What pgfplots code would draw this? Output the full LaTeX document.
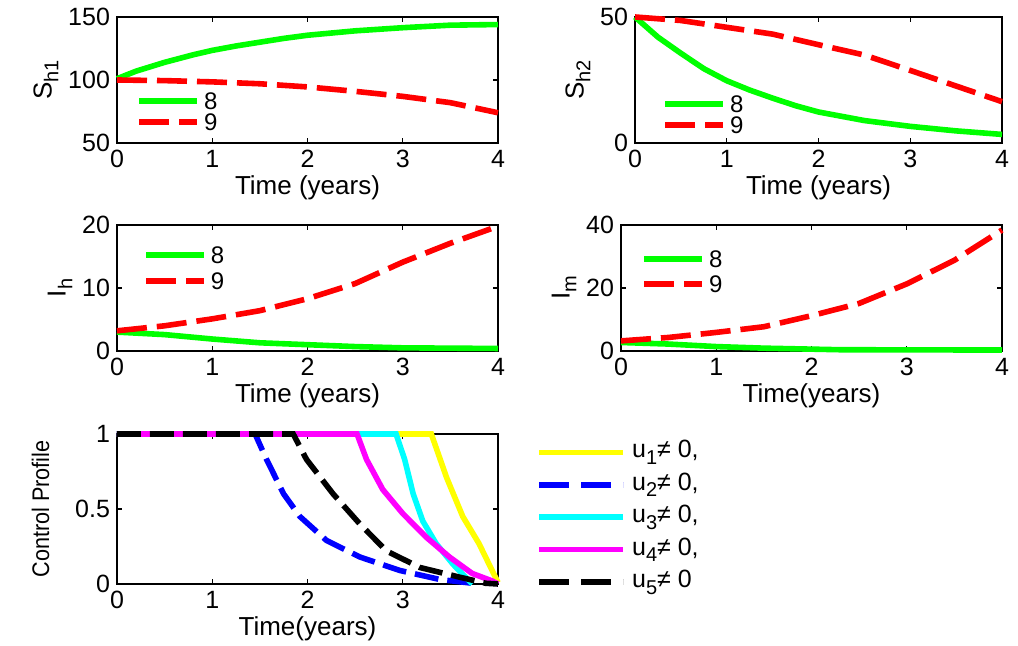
\documentclass[border=0pt]{standalone}
\usepackage{fontspec}
\setmainfont{Liberation Sans}
\usepackage{pgfplots}
\pgfplotsset{compat=1.18}
\definecolor{mgreen}{rgb}{0,1,0}
\definecolor{mred}{rgb}{1,0,0}
\definecolor{myellow}{rgb}{1,1,0}
\definecolor{mblue}{rgb}{0,0,1}
\definecolor{mcyan}{rgb}{0,1,1}
\definecolor{mmag}{rgb}{1,0,1}
\newcommand{\fs}{\fontsize{12.5}{14}\selectfont}
\newcommand{\fg}{\fontsize{12}{14}\selectfont}
\newcommand{\fl}{\fontsize{13}{15}\selectfont}
\newcommand{\sbs}[1]{\raisebox{-0.5ex}{\fontsize{10}{12}\selectfont #1}}
\pgfplotsset{
  mystyle/.style={
    scale only axis, clip=false,
    xmin=0, xmax=4, xtick={0,1,2,3,4},
    tick align=inside, major tick length=2.5pt,
    axis line style={line width=0.6pt},
    every tick/.style={black, line width=0.6pt},
    tick label style={font=\fs},
    label style={font=\fl},
    /pgf/number format/assume math mode=true,
    legend style={draw=none, fill=none, font=\fg, inner sep=0pt, anchor=north west, row sep=1pt,
      nodes={inner xsep=2pt, inner ysep=0.5pt, text height=8.5pt, text depth=0pt}},
    legend cell align=left,
    legend image code/.code={\draw[##1] (0pt,0pt) -- (29pt,0pt);},
    xlabel={Time (years)},
    xlabel style={yshift=3pt},
    ylabel style={yshift=-2pt},
  },
  gl/.style={color=mgreen, line width=2.8pt},
  rd/.style={color=mred, line width=2.8pt, dash pattern=on 15pt off 5pt},
  yl/.style={color=myellow, line width=2.8pt,
    legend image code/.code={\draw[color=myellow, line width=2.8pt] (0pt,0pt) -- (42pt,0pt);}},
  bl/.style={color=mblue, line width=2.8pt, dash pattern=on 12pt off 4.5pt,
    legend image code/.code={\draw[color=mblue, line width=2.8pt, dash pattern=on 15pt off 6pt] (0pt,0pt) -- (42pt,0pt);}},
  cy/.style={color=mcyan, line width=2.8pt,
    legend image code/.code={\draw[color=mcyan, line width=2.8pt] (0pt,0pt) -- (42pt,0pt);}},
  mg/.style={color=mmag, line width=2.8pt,
    legend image code/.code={\draw[color=mmag, line width=2.8pt] (0pt,0pt) -- (42pt,0pt);}},
  bk/.style={color=black, line width=2.8pt, dash pattern=on 12pt off 4.5pt,
    legend image code/.code={\draw[color=black, line width=2.8pt, dash pattern=on 15pt off 6pt] (0pt,0pt) -- (42pt,0pt);}},
}
\begin{document}
\begin{tikzpicture}
\useasboundingbox (0,0) rectangle (509pt,323pt);
% S_h1
\begin{axis}[mystyle, at={(58.5pt,251.5pt)}, anchor=south west, width=190.5pt, height=63pt,
  ymin=50, ymax=150, ytick={50,100,150}, ylabel={S\sbs{h1}},
  legend style={at={(rel axis cs:0.05,0.41)}}]
\addplot[gl] coordinates {(0,101)(0.2,107)(0.5,114)(0.8,120)(1,123.5)(1.25,127)(1.5,130)(1.75,133)(2,135.5)(2.5,139)(3,141.5)(3.5,143.5)(4,144)};
\addplot[rd] coordinates {(0,100)(0.5,99.5)(1,98.5)(1.5,97)(2,94.5)(2.5,91)(3,87)(3.5,82)(4,74)};
\legend{8,9}
\end{axis}
% S_h2
\begin{axis}[mystyle, at={(317.5pt,251.5pt)}, anchor=south west, width=183.5pt, height=63pt,
  ymin=0, ymax=50, ytick={0,50}, ylabel={S\sbs{h2}},
  legend style={at={(rel axis cs:0.074,0.39)}, row sep=1.2pt}]
\addplot[gl] coordinates {(0,50)(0.25,42)(0.5,35.6)(0.75,29.5)(1,24.7)(1.25,21)(1.5,17.8)(1.75,14.8)(2,12.3)(2.5,8.9)(3,6.6)(3.5,4.8)(4,3.4)};
\addplot[rd] coordinates {(0,50)(0.5,48.6)(1,45.9)(1.5,43.2)(2,39)(2.5,34.9)(3,28.8)(3.5,22.6)(4,16.4)};
\legend{8,9}
\end{axis}
% I_h
\begin{axis}[mystyle, at={(58.5pt,147.5pt)}, anchor=south west, width=190.5pt, height=63pt,
  ymin=0, ymax=20, ytick={0,10,20}, ylabel={I\sbs{h}},
  legend style={at={(rel axis cs:0.068,0.84)}, row sep=3.5pt}]
\addplot[gl] coordinates {(0,3)(0.5,2.6)(1,1.9)(1.5,1.3)(2,1.0)(2.5,0.7)(3,0.5)(4,0.4)};
\addplot[rd] coordinates {(0,3.2)(0.5,4.0)(1,5.1)(1.5,6.4)(2,8.3)(2.5,10.7)(3,14.1)(3.5,17.1)(4,19.8)};
\legend{8,9}
\end{axis}
% I_m
\begin{axis}[mystyle, at={(310.5pt,147.5pt)}, anchor=south west, width=190.5pt, height=63pt,
  ymin=0, ymax=40, ytick={0,20,40}, ylabel={I\sbs{m}}, xlabel={Time(years)},
  legend style={at={(rel axis cs:0.053,0.81)}, row sep=3pt}]
\addplot[gl] coordinates {(0,2.7)(0.5,2.2)(1,1.4)(1.5,0.9)(2.3,0.4)(4,0.3)};
\addplot[rd] coordinates {(0,3.2)(0.5,4.3)(1,5.9)(1.5,7.7)(2,11.2)(2.5,15.1)(3,21.3)(3.5,28.8)(4,38.4)};
\legend{8,9}
\end{axis}
% Control
\begin{axis}[mystyle, at={(58.5pt,31pt)}, anchor=south west, width=190.5pt, height=75pt,
  ymin=0, ymax=1, ytick={0,0.5,1}, ylabel={Control Profile}, xlabel={Time(years)},
  ylabel style={font=\fontsize{12}{14}\selectfont, xscale=0.9}, ylabel shift=8pt,
  legend style={at={(rel axis cs:1.10,0.97)}, row sep=2.7pt, font=\fs,
    nodes={inner xsep=3pt, inner ysep=0.5pt, text height=9pt, text depth=3.5pt}}]
\addplot[yl] coordinates {(0,1)(3.3,1)(3.46,0.71)(3.63,0.45)(3.8,0.27)(4,0.01)};
\addplot[bl] coordinates {(0,1)(1.45,1)(1.57,0.83)(1.75,0.6)(1.92,0.45)(2.2,0.29)(2.55,0.18)(2.97,0.09)(3.39,0.03)(3.8,0)};
\addplot[cy] coordinates {(0,1)(2.93,1)(3.02,0.83)(3.11,0.6)(3.21,0.42)(3.35,0.27)(3.53,0.13)(3.73,0)};
\addplot[mg] coordinates {(0,1)(2.52,1)(2.62,0.83)(2.79,0.63)(3.0,0.47)(3.25,0.31)(3.49,0.18)(3.73,0.07)(3.94,0.02)(4,0)};
\addplot[bk] coordinates {(0,1)(1.85,1)(1.99,0.83)(2.27,0.6)(2.55,0.4)(2.83,0.22)(3.18,0.11)(3.6,0.045)(3.87,0.005)(4,0)};
\legend{{u\sbs{1}≠ 0,}, {u\sbs{2}≠ 0,}, {u\sbs{3}≠ 0,}, {u\sbs{4}≠ 0,}, {u\sbs{5}≠ 0}}
\end{axis}
\end{tikzpicture}
\end{document}
